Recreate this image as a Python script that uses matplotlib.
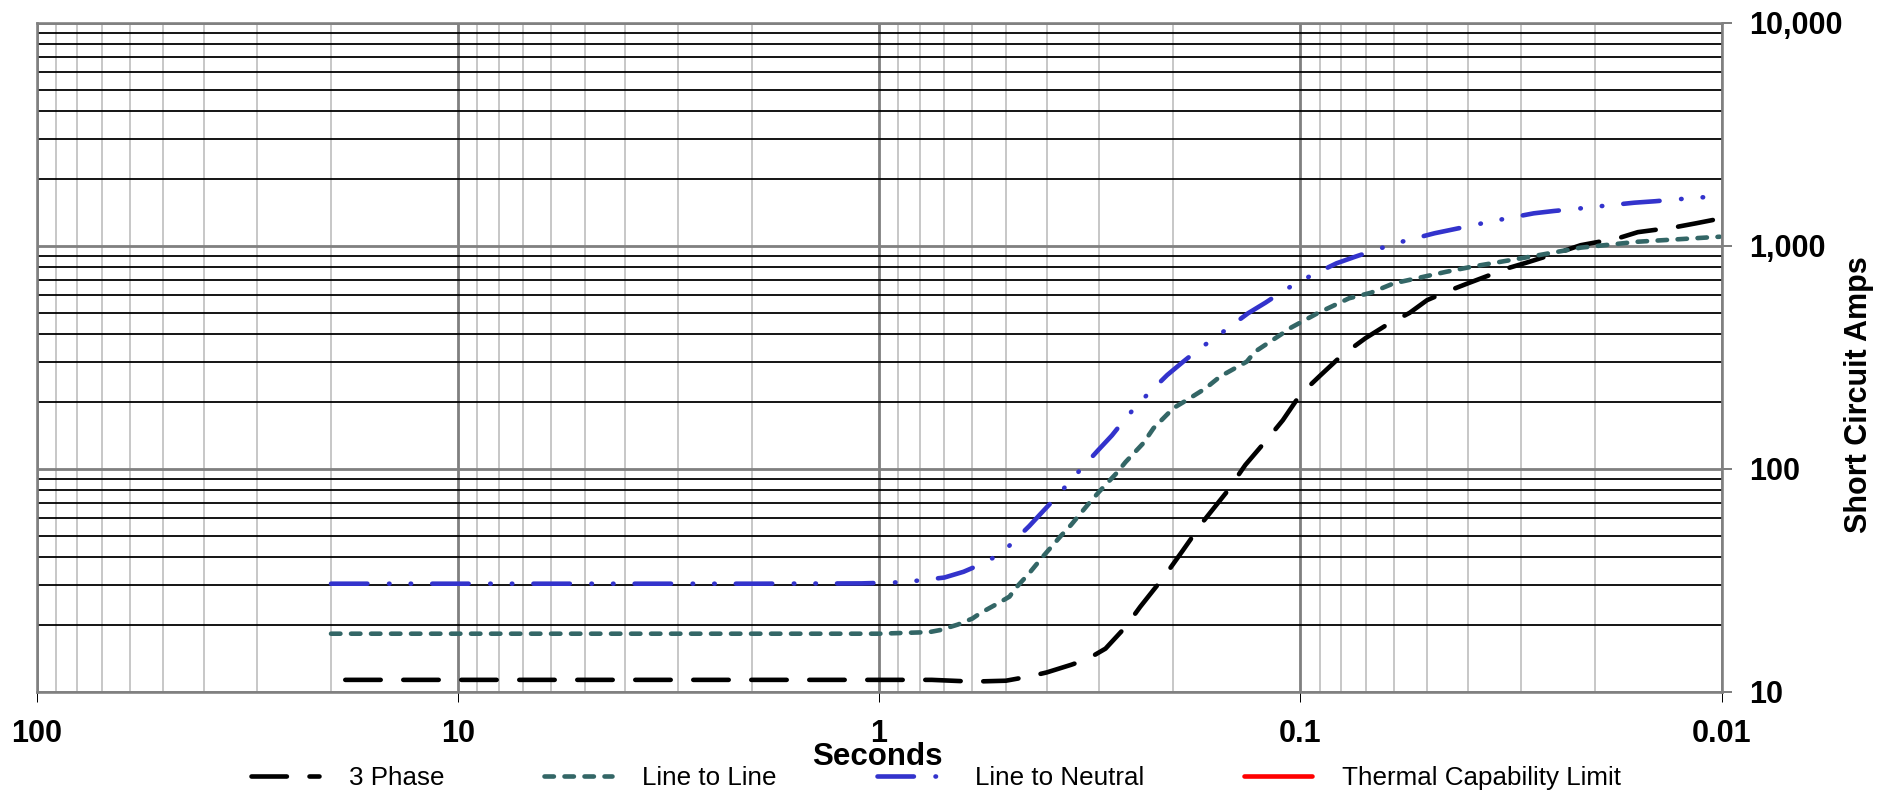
import matplotlib
matplotlib.use('Agg')
import matplotlib.pyplot as plt
from matplotlib.ticker import LogLocator, FuncFormatter, NullFormatter

plt.rcParams['font.family'] = ['Liberation Sans', 'DejaVu Sans']
plt.rcParams['font.weight'] = 'bold'
plt.rcParams['lines.scale_dashes'] = False

# ---------------- data ----------------
series_labels = ['3 Phase', 'Line to Line', 'Line to Neutral', 'Thermal Capability Limit']

phase3_t = [18.5, 10, 5, 2, 1, 0.75, 0.6, 0.5, 0.44, 0.4, 0.35, 0.32, 0.29, 0.26,
            0.24, 0.21, 0.19, 0.17, 0.15, 0.135, 0.12, 0.11, 0.1, 0.09, 0.08, 0.07,
            0.063, 0.055, 0.05, 0.044, 0.04, 0.032, 0.029, 0.024, 0.0216, 0.0176,
            0.0158, 0.0129, 0.0115, 0.01]
phase3_amps = [11.3, 11.3, 11.3, 11.3, 11.3, 11.3, 11.1, 11.2, 11.7, 12.2, 13.2, 14.0,
               15.6, 19.5, 24, 33, 43, 58, 78, 104, 135, 165, 215, 260, 320, 385,
               436, 500, 570, 632, 678, 795, 840, 940, 1005, 1080,
               1150, 1210, 1260, 1327]

ll_t = [20, 10, 5, 2, 1, 0.76, 0.716, 0.65, 0.6, 0.575, 0.52, 0.49, 0.475, 0.44,
        0.41, 0.37, 0.35, 0.32, 0.3, 0.273, 0.26, 0.236, 0.223, 0.2, 0.186, 0.168,
        0.155, 0.134, 0.128, 0.11, 0.105, 0.091, 0.0766, 0.068, 0.06, 0.045,
        0.039, 0.0293, 0.0216, 0.0158, 0.0101]
ll_amps = [18.2, 18.2, 18.2, 18.2, 18.2, 18.5, 18.9, 20, 21.3, 22.5, 25, 26.7, 29, 34,
           40, 50, 56, 68.7, 79, 95.5, 107, 130, 152, 187, 203, 229,
           259, 302, 335, 405, 430, 498, 581, 615, 678, 764,
           806, 884, 980, 1042, 1097]

ln_t = [20, 10, 5, 2, 1.1, 0.97, 0.87, 0.7, 0.63, 0.565, 0.51, 0.44, 0.407, 0.376,
        0.349, 0.302, 0.28, 0.26, 0.241, 0.207, 0.19, 0.174, 0.158, 0.133, 0.121,
        0.11, 0.0997, 0.082, 0.074, 0.066, 0.059, 0.048, 0.0432, 0.0386, 0.0345,
        0.0279, 0.025, 0.0222, 0.0199, 0.0161, 0.01435, 0.01277, 0.0114, 0.01]
ln_amps = [30.5, 30.5, 30.5, 30.5, 30.6, 30.8, 31, 32.5, 34.5, 37.7, 42, 55.3, 64.8, 76,
           89.6, 121, 141, 168, 198, 263, 301, 344, 391, 498, 555,
           625, 697, 834, 893, 960, 1028, 1137, 1185, 1239, 1295,
           1397, 1431, 1462, 1496, 1559, 1583, 1614, 1642, 1671]

thermal_t = []
thermal_amps = []

x_limits = [100, 0.01]
y_limits = [10, 10000]

# ---------------- figure ----------------
PX = 0.72  # points per pixel at 100 dpi
W, H = 1887, 795
fig = plt.figure(figsize=(W / 100, H / 100), dpi=100)
ax_l, ax_r, ax_t, ax_b = 36.6, 1721.5, 22.7, 691.7
ax = fig.add_axes([ax_l / W, 1 - ax_b / H, (ax_r - ax_l) / W, (ax_b - ax_t) / H])

lwp = 4.6
lw = lwp * PX
ax.plot(phase3_t, phase3_amps, color='black', lw=lw,
        dashes=((40 - lwp) * PX, (18 + lwp) * PX), dash_capstyle='round',
        label=series_labels[0])
ax.plot(ll_t, ll_amps, color='#336666', lw=lw,
        dashes=((14 - lwp) * PX, (6 + lwp) * PX), dash_capstyle='round',
        label=series_labels[1])
ax.plot(ln_t, ln_amps, color='#3333CC', lw=lw,
        dashes=((41 - lwp) * PX, (17 + lwp) * PX, 0.5 * PX, (16.5 + lwp) * PX,
                0.5 * PX, (16.5 + lwp) * PX),
        dash_capstyle='round', label=series_labels[2])
ax.plot(thermal_t, thermal_amps, color='#FF0000', lw=lw,
        solid_capstyle='round', label=series_labels[3])

ax.set_xscale('log')
ax.set_yscale('log')
ax.set_xlim(*x_limits)
ax.set_ylim(*y_limits)

for axis in (ax.xaxis, ax.yaxis):
    axis.set_major_locator(LogLocator(base=10, numticks=20))
    axis.set_minor_locator(LogLocator(base=10, subs=range(2, 10), numticks=20))
    axis.set_minor_formatter(NullFormatter())

ax.xaxis.set_major_formatter(FuncFormatter(lambda v, p: f'{v:g}'))
ax.yaxis.set_major_formatter(FuncFormatter(lambda v, p: f'{v:,.0f}'))

# grid
ax.xaxis.grid(True, which='major', color='#808080', lw=2.8 * PX)
ax.xaxis.grid(True, which='minor', color='#c8c8c8', lw=2 * PX)
ax.yaxis.grid(True, which='major', color='#808080', lw=2.8 * PX)
ax.yaxis.grid(True, which='minor', color='black', lw=1.8 * PX)

for s in ax.spines.values():
    s.set_color('#808080')
    s.set_linewidth(2.6 * PX)

ax.yaxis.tick_right()
ax.tick_params(axis='x', which='major', bottom=True, top=False, direction='out',
               length=10 * PX, width=1 * PX, color='black', pad=12.5, labelsize=22)
ax.tick_params(axis='y', which='major', right=True, left=False, direction='out',
               length=10 * PX, width=1.5 * PX, color='#555555', pad=13, labelsize=22)
ax.tick_params(which='minor', length=0)

# axis labels
ax.set_xlabel('Seconds', fontsize=22.5, fontweight='bold', va='baseline')
ax.xaxis.set_label_coords((877.5 - ax_l) / (ax_r - ax_l), (ax_b - 765) / (ax_b - ax_t))

ax.set_ylabel('Short Circuit Amps', fontsize=22, fontweight='bold')
ax.yaxis.set_label_position('right')
ax.yaxis.label.set_verticalalignment('center')
ax.yaxis.label.set_horizontalalignment('center')
ax.yaxis.set_label_coords((1859 - ax_l) / (ax_r - ax_l), (ax_b - 394.6) / (ax_b - ax_t))

# legend
fs_leg = 18.7
em = fs_leg / PX
handles, labels = ax.get_legend_handles_labels()
fig.legend(handles, labels, loc='center', bbox_to_anchor=(936 / W, 1 - 778 / H),
           ncol=4, frameon=False, prop={'size': fs_leg, 'weight': 'normal'},
           handlelength=68 / em, handletextpad=30 / em, columnspacing=100 / em,
           borderpad=0, borderaxespad=0)

fig.savefig('out.png', dpi=100)
